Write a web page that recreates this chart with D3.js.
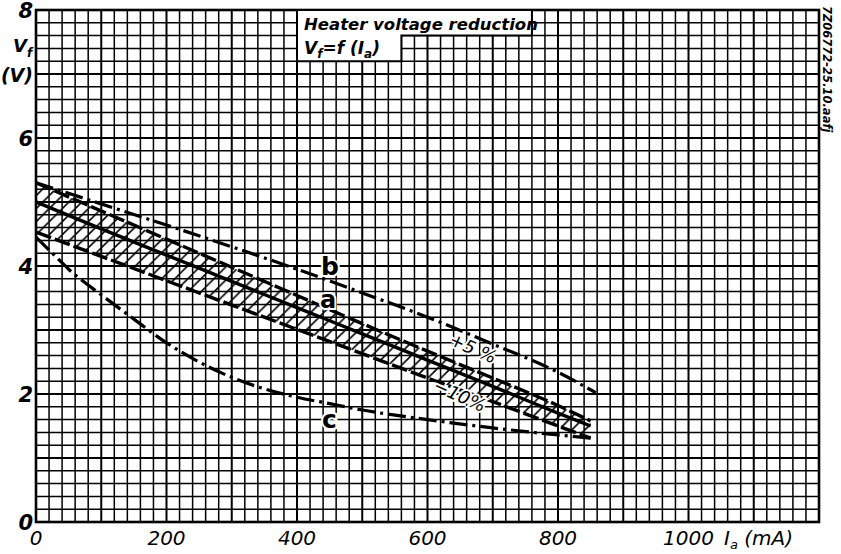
<!DOCTYPE html>
<html>
<head>
<meta charset="utf-8">
<script src="https://cdn.jsdelivr.net/npm/d3@7"></script>
<style>
  body { margin: 0; background: #fff; }
  svg { display: block; }
</style>
</head>
<body>
<script>
// values: I_a in mA, V_f in V
const curveB = [[0,5.3],[100,4.97],[200,4.64],[300,4.3],[400,3.95],[500,3.58],[600,3.2],[700,2.78],[800,2.34],[858,2.02]];
const plus5  = [[0,5.3],[100,4.86],[200,4.42],[300,3.98],[400,3.54],[500,3.1],[600,2.67],[700,2.25],[800,1.82],[850,1.58]];
const curveA = [[0,5.0],[100,4.58],[200,4.17],[300,3.76],[400,3.35],[500,2.94],[600,2.53],[700,2.12],[800,1.7],[850,1.5]];
const minus10 = [[0,4.53],[100,4.15],[200,3.77],[300,3.39],[400,3.01],[500,2.63],[600,2.25],[700,1.88],[800,1.5],[850,1.31]];
const curveC = [[0,4.45],[25,4.2],[50,3.95],[100,3.55],[150,3.17],[200,2.8],[250,2.5],[300,2.26],[350,2.08],[400,1.95],[450,1.85],[500,1.75],[600,1.6],[700,1.47],[800,1.36],[850,1.31]];

const xTicks = [0, 200, 400, 600, 800, 1000];
const yTicks = [0, 2, 4, 6, 8];

const W = 841, H = 554;
const pLeft = 36, pRight = 819, pTop = 10, pBottom = 522;

const x = d3.scaleLinear().domain([0, 1200]).range([pLeft, pRight]);
const y = d3.scaleLinear().domain([0, 8]).range([pBottom, pTop]);

const svg = d3.select("body").append("svg")
  .attr("width", W).attr("height", H)
  .style("background", "#fff");

// grid
const vLines = d3.range(0, 1201, 20);
const hLines = d3.range(0, 41).map(i => i * 0.2);

svg.append("g").selectAll("line").data(vLines).enter().append("line")
  .attr("x1", d => x(d)).attr("x2", d => x(d))
  .attr("y1", pTop).attr("y2", pBottom)
  .attr("stroke", "#000")
  .attr("stroke-width", d => d % 100 === 0 ? 2.0 : 1.5);

svg.append("g").selectAll("line").data(hLines).enter().append("line")
  .attr("x1", pLeft).attr("x2", pRight)
  .attr("y1", d => y(d)).attr("y2", d => y(d))
  .attr("stroke", "#000")
  .attr("stroke-width", (d, i) => i % 5 === 0 ? 2.0 : 1.5);

svg.append("rect")
  .attr("x", pLeft).attr("y", pTop)
  .attr("width", pRight - pLeft).attr("height", pBottom - pTop)
  .attr("fill", "none").attr("stroke", "#000").attr("stroke-width", 2.6);

// title box
const box = svg.append("g");
box.append("path")
  .attr("d", `M${x(400)},${y(8)} H${x(760)} V${y(7.6)} H${x(560)} V${y(7.2)} H${x(400)} Z`)
  .attr("fill", "#fff").attr("stroke", "#000").attr("stroke-width", 2);
box.append("text")
  .attr("x", x(400) + 7).attr("y", y(7.6) - 6)
  .attr("font-family", "DejaVu Sans").attr("font-style", "italic").attr("font-weight", "bold")
  .attr("font-size", 16.5)
  .text("Heater voltage reduction");
const eq = box.append("text")
  .attr("x", x(400) + 7).attr("y", y(7.2) - 7)
  .attr("font-family", "DejaVu Sans").attr("font-style", "italic").attr("font-weight", "bold")
  .attr("font-size", 17);
eq.append("tspan").text("V");
eq.append("tspan").attr("font-size", 12).attr("dy", 4).text("f");
eq.append("tspan").attr("dy", -4).text("=f (I");
eq.append("tspan").attr("font-size", 12).attr("dy", 4).text("a");
eq.append("tspan").attr("dy", -4).text(")");

// hatched band
const pw = x(20) - x(0);
const defs = svg.append("defs");
const pat = defs.append("pattern")
  .attr("id", "hatch").attr("patternUnits", "userSpaceOnUse")
  .attr("x", pLeft).attr("y", pBottom)
  .attr("width", pw).attr("height", pw);
pat.append("line")
  .attr("x1", 0).attr("y1", pw).attr("x2", pw).attr("y2", 0)
  .attr("stroke", "#000").attr("stroke-width", 1.6);

const area = d3.area()
  .x(d => x(d[0]))
  .y0(d => y(d[2]))
  .y1(d => y(d[1]))
  .curve(d3.curveMonotoneX);

const bandData = plus5.map((d, i) => [d[0], d[1], minus10[i][1]]);
svg.append("path").datum(bandData)
  .attr("d", area)
  .attr("fill", "url(#hatch)");

const line = d3.line().x(d => x(d[0])).y(d => y(d[1])).curve(d3.curveMonotoneX);

const curves = [
  { data: curveB, dash: "18,5,3,5", w: 3.2 },
  { data: plus5, dash: "16,4", w: 3.4 },
  { data: curveA, dash: null, w: 3.4 },
  { data: minus10, dash: "16,4", w: 3.4 },
  { data: curveC, dash: "18,5,3,5", w: 3.2 }
];

svg.append("g").selectAll("path").data(curves).enter().append("path")
  .attr("d", d => line(d.data))
  .attr("fill", "none")
  .attr("stroke", "#000")
  .attr("stroke-width", d => d.w)
  .attr("stroke-dasharray", d => d.dash);

// curve labels
const lbl = (tx, ty, s, size) => svg.append("text")
  .attr("x", tx).attr("y", ty)
  .attr("font-family", "DejaVu Sans").attr("font-weight", "bold")
  .attr("font-size", size)
  .attr("stroke", "#fff").attr("stroke-width", 4).attr("paint-order", "stroke")
  .text(s);
lbl(321, 275, "b", 25);
lbl(320, 308, "a", 24);
lbl(322, 428, "c", 25);

const pct = (tx, ty, s) => svg.append("text")
  .attr("transform", `translate(${tx},${ty}) rotate(24)`)
  .attr("font-family", "DejaVu Sans").attr("font-style", "italic")
  .attr("font-size", 18)
  .attr("stroke", "#fff").attr("stroke-width", 4).attr("paint-order", "stroke")
  .text(s);
pct(448, 344, "+5 %");
pct(432, 390, "\u221210%");

// axis labels
const font = "DejaVu Sans";
svg.append("g").selectAll("text").data(xTicks).enter().append("text")
  .attr("x", d => x(d)).attr("y", 545)
  .attr("text-anchor", "middle")
  .attr("font-family", font).attr("font-style", "italic")
  .attr("font-size", 20)
  .text(d => d);

svg.append("g").selectAll("text").data(yTicks).enter().append("text")
  .attr("x", 33).attr("y", d => y(d) + 8)
  .attr("text-anchor", "end")
  .attr("font-family", font).attr("font-style", "italic").attr("font-weight", "bold")
  .attr("font-size", 21)
  .text(d => d);

const xl = svg.append("text")
  .attr("x", 724).attr("y", 545)
  .attr("font-family", font).attr("font-style", "italic")
  .attr("font-size", 20);
xl.append("tspan").text("I");
xl.append("tspan").attr("font-size", 13).attr("dy", 4).text("a");
xl.append("tspan").attr("dy", -4).text(" (mA)");

const yl = svg.append("text")
  .attr("x", 13).attr("y", 52)
  .attr("font-family", font).attr("font-style", "italic").attr("font-weight", "bold")
  .attr("font-size", 18);
yl.append("tspan").text("V");
yl.append("tspan").attr("font-size", 12).attr("dy", 5).text("f");
svg.append("text")
  .attr("x", 33).attr("y", 82).attr("text-anchor", "end")
  .attr("font-family", font).attr("font-style", "italic").attr("font-weight", "bold")
  .attr("font-size", 19)
  .text("(V)");

svg.append("text")
  .attr("transform", "translate(823,6) rotate(90)")
  .attr("font-family", font).attr("font-style", "italic").attr("font-weight", "bold")
  .attr("font-size", 11.5)
  .text("7Z06772-25.10.aafj");
</script>
</body>
</html>
